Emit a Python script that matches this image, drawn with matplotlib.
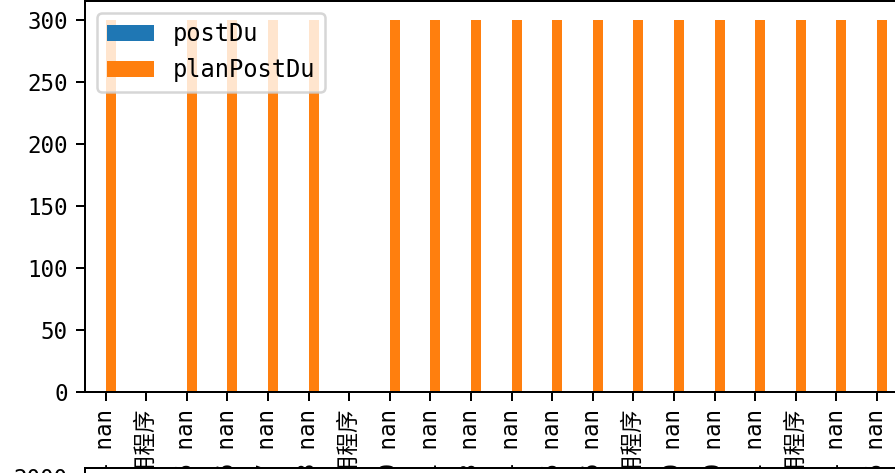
import pandas as pd
import numpy as np
import matplotlib
matplotlib.use('Agg')
import matplotlib.pyplot as plt

# SimHei stand-in: half-width monospaced latin, CJK from Noto
plt.rcParams['font.family'] = ['DejaVu Sans Mono', 'Noto Sans CJK SC']
plt.rcParams['font.size'] = 9
plt.rcParams['axes.unicode_minus'] = False

nan = np.nan

dates = ['2020-07-14', '2020-07-19', '2020-07-15', '2020-07-16', '2020-07-17',
         '2020-07-18', '2020-07-19', '2020-07-20', '2020-07-21', '2020-07-23',
         '2020-07-24', '2020-07-25', '2020-07-26', '2020-07-27', '2020-07-29',
         '2020-07-30', '2020-07-31', '2020-08-01', '2020-08-04', '2020-08-05']
names = ['nan', '应用程序', 'nan', 'nan', 'nan', 'nan', '应用程序', 'nan', 'nan', 'nan',
         'nan', 'nan', 'nan', '应用程序', 'nan', 'nan', 'nan', '应用程序', 'nan', 'nan']
labels = [d + ' ' + n for d, n in zip(dates, names)]

postDu = [nan] * 20
planPostDu = [300, nan, 300, 300, 300, 300, nan, 300, 300, 300,
              300, 300, 300, 300, 300, 300, 300, 300, 300, 300]

# lower subplot, only its top edge shows
lower_yticks = [0, 500, 1000, 1500, 2000]

df = pd.DataFrame({'postDu': postDu, 'planPostDu': planPostDu}, index=labels)

fig = plt.figure(figsize=(895 / 180, 473 / 180), dpi=180)
ax1 = fig.add_axes([0.0952, 0.17125, 0.9073, 0.8266])
df.plot(kind='bar', ax=ax1)
ax1.legend(loc='upper left', fontsize=9.5)

ax2 = fig.add_axes([0.0952, -1.0, 0.9073, 1.01057])
ax2.set_ylim(0, 2040)
ax2.set_yticks(lower_yticks)
ax2.set_xticks([])

fig.savefig('out.png', dpi=180)
